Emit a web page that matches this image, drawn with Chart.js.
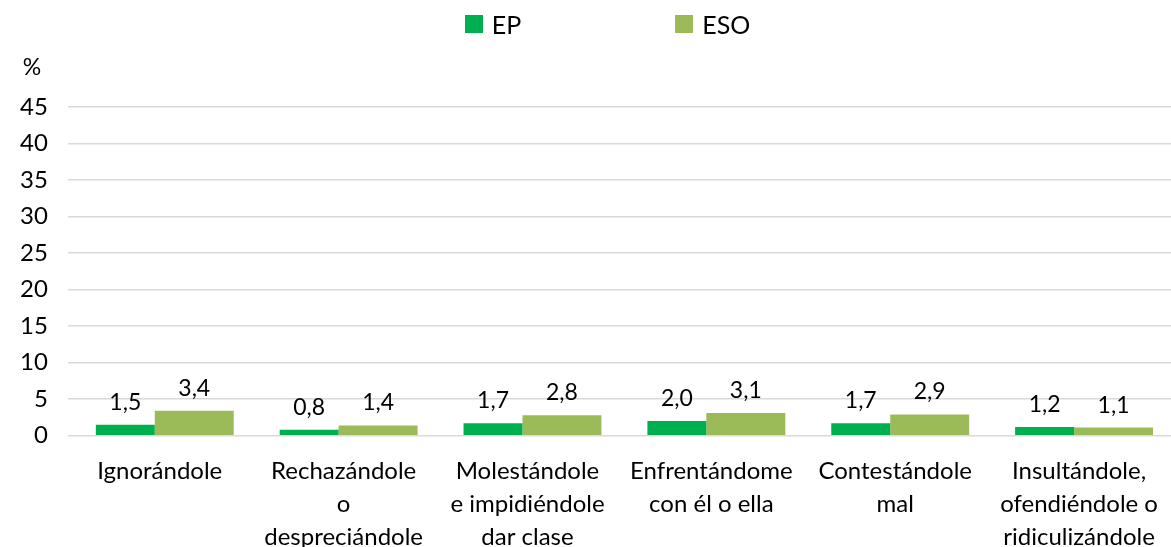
<!DOCTYPE html>
<html lang="es">
<head>
    <meta charset="UTF-8">
    <title>EP / ESO</title>
    <script src="https://cdn.jsdelivr.net/npm/chart.js"></script>
    <style>
        html, body { margin: 0; padding: 0; background: #fff; }
        .wrap { position: relative; width: 1171px; height: 547px; }
        .legend { position: absolute; top: 9px; left: 0; width: 1127px; padding-left: 44px; display: flex; justify-content: center;
                  font-family: Lato, "Open Sans", sans-serif; font-size: 25px; color: #000; }
        .legend span.item { display: flex; align-items: center; margin: 0 77px; }
        .legend span.box { display: inline-block; width: 18px; height: 18px; margin-right: 9px; }
    </style>
</head>
<body>
<div class="wrap">
    <div class="legend" id="legend"></div>
    <canvas id="chart" width="1171" height="547"></canvas>
</div>
<script>
const categories = [
    "Ignorándole",
    ["Rechazándole", "o", "despreciándole"],
    ["Molestándole", "e impidiéndole", "dar clase"],
    ["Enfrentándome", "con él o ella"],
    ["Contestándole", "mal"],
    ["Insultándole,", "ofendiéndole o", "ridiculizándole"]
];
const epValues = [1.5, 0.8, 1.7, 2.0, 1.7, 1.2];
const esoValues = [3.4, 1.4, 2.8, 3.1, 2.9, 1.1];
const seriesNames = ["EP", "ESO"];
const seriesColors = ["#00b050", "#9bbb59"];

const font = "Lato, 'Open Sans', sans-serif";

// legend in html so the two items can sit far apart
const legendEl = document.getElementById("legend");
seriesNames.forEach((name, i) => {
    const item = document.createElement("span");
    item.className = "item";
    item.innerHTML = '<span class="box" style="background:' + seriesColors[i] + '"></span>' + name;
    legendEl.appendChild(item);
});

// value labels above the bars, with decimal comma
const barLabels = {
    id: "barLabels",
    afterDatasetsDraw(chart) {
        const ctx = chart.ctx;
        ctx.save();
        ctx.font = "23px " + font;
        ctx.fillStyle = "#000";
        ctx.textAlign = "center";
        ctx.textBaseline = "bottom";
        chart.data.datasets.forEach((ds, di) => {
            chart.getDatasetMeta(di).data.forEach((bar, i) => {
                ctx.fillText(ds.data[i].toFixed(1).replace(".", ","), bar.x, bar.y - 11);
            });
        });
        ctx.restore();
    }
};

// the "%" unit above the y axis
const unitLabel = {
    id: "unitLabel",
    afterDraw(chart) {
        const y = chart.scales.y;
        const ctx = chart.ctx;
        ctx.save();
        ctx.font = "23px " + font;
        ctx.fillStyle = "#000";
        ctx.textAlign = "center";
        ctx.textBaseline = "middle";
        ctx.fillText("%", 32, y.getPixelForValue(45) - 39);
        ctx.restore();
    }
};

new Chart(document.getElementById("chart"), {
    type: "bar",
    data: {
        labels: categories,
        datasets: [
            { label: seriesNames[0], data: epValues, backgroundColor: seriesColors[0], barPercentage: 0.855 },
            { label: seriesNames[1], data: esoValues, backgroundColor: seriesColors[1], barPercentage: 1.145 }
        ]
    },
    options: {
        responsive: false,
        animation: false,
        layout: { padding: { top: 107, left: 0, right: 0, bottom: -17 } },
        datasets: { bar: { categoryPercentage: 0.75 } },
        plugins: {
            legend: { display: false },
            tooltip: { enabled: false }
        },
        scales: {
            x: {
                grid: { display: false, drawTicks: true, tickLength: 9, tickColor: "rgba(0,0,0,0)" },
                border: { display: false },
                ticks: { color: "#000", font: { family: font, size: 24, lineHeight: 1.38 }, padding: 10, maxRotation: 0, autoSkip: false }
            },
            y: {
                min: 0,
                max: 45,
                ticks: { stepSize: 5, color: "#000", font: { family: font, size: 24 }, padding: 20 },
                grid: { color: "#d9d9d9", lineWidth: 1.5, drawTicks: false },
                border: { display: false }
            }
        }
    },
    plugins: [barLabels, unitLabel]
});
</script>
</body>
</html>
